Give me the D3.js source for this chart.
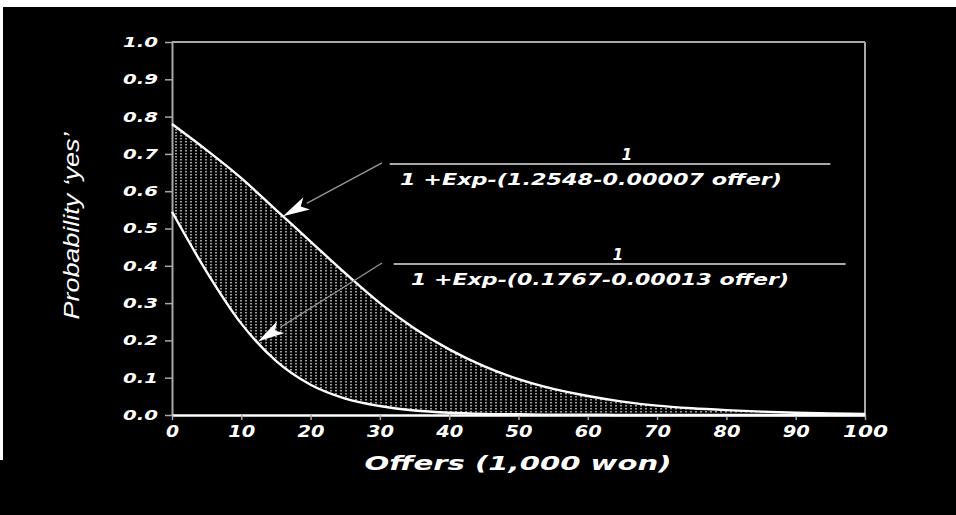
<!DOCTYPE html>
<html>
<head>
<meta charset="utf-8">
<script src="https://cdn.jsdelivr.net/npm/d3@7"></script>
<style>
  html, body { margin: 0; padding: 0; background: #000; overflow: hidden; }
  svg { display: block; }
</style>
</head>
<body>
<svg id="chart" width="956" height="515"></svg>
<script>
// Offers in thousands of won, with the fitted probability of a "yes" answer
const offers   = [0, 5, 10, 15, 20, 25, 30, 35, 40, 45, 50, 55, 60, 65, 70, 75, 80, 85, 90, 95, 100];
const upperYes = [0.78, 0.71, 0.635, 0.55, 0.465, 0.38, 0.30, 0.232, 0.176, 0.131, 0.096, 0.07, 0.051, 0.036, 0.025, 0.018, 0.013, 0.009, 0.006, 0.004, 0.003];
const lowerYes = [0.545, 0.384, 0.245, 0.145, 0.081, 0.044, 0.024, 0.012, 0.006, 0.003, 0.002, 0.001, 0.001, 0, 0, 0, 0, 0, 0, 0, 0];

const yTicks = [0, 0.1, 0.2, 0.3, 0.4, 0.5, 0.6, 0.7, 0.8, 0.9, 1.0];
const xTicks = [0, 10, 20, 30, 40, 50, 60, 70, 80, 90, 100];

const xTitle = "Offers (1,000 won)";
const yTitle = "Probability \u2018yes\u2019";
const formulaUpper = "1 +Exp-(1.2548-0.00007 offer)";
const formulaLower = "1 +Exp-(0.1767-0.00013 offer)";

const W = 956, H = 515;
const boldFont = "'DejaVu Sans', sans-serif";

const svg = d3.select("#chart");

// page background with the light band along the top and left edges
svg.append("rect").attr("width", W).attr("height", H).attr("fill", "#000");
svg.append("rect").attr("width", W).attr("height", 7).attr("fill", "#fff");
svg.append("rect").attr("width", 3).attr("height", 460).attr("fill", "#fff");

const x = d3.scaleLinear().domain([0, 100]).range([172, 865]);
const y = d3.scaleLinear().domain([0, 1]).range([415, 42]);

// stipple used to shade the region between the two curves
const defs = svg.append("defs");
const pat = defs.append("pattern")
  .attr("id", "stipple")
  .attr("patternUnits", "userSpaceOnUse")
  .attr("width", 5).attr("height", 3);
pat.append("rect").attr("width", 2).attr("height", 1.5).attr("fill", "#9a9a9a");

const rows = offers.map((o, i) => ({ o, hi: upperYes[i], lo: lowerYes[i] }));

svg.append("path")
  .datum(rows)
  .attr("fill", "url(#stipple)")
  .attr("d", d3.area()
    .x(d => x(d.o))
    .y0(d => y(d.lo))
    .y1(d => y(d.hi))
    .curve(d3.curveMonotoneX));

// frame: top and right edges
const frameColor = "#a8a8a8";
svg.append("line")
  .attr("x1", x(0)).attr("x2", x(100)).attr("y1", y(1)).attr("y2", y(1))
  .attr("stroke", frameColor).attr("stroke-width", 2);
svg.append("line")
  .attr("x1", x(100)).attr("x2", x(100)).attr("y1", y(1)).attr("y2", y(0))
  .attr("stroke", frameColor).attr("stroke-width", 2);

// y axis
const yAxis = svg.append("g")
  .attr("transform", `translate(${x(0)},0)`)
  .call(d3.axisLeft(y).tickValues(yTicks).tickFormat(d3.format(".1f"))
    .tickSize(7).tickSizeOuter(0).tickPadding(7));
yAxis.select(".domain").attr("stroke", frameColor).attr("stroke-width", 2);
yAxis.selectAll(".tick line").attr("stroke", frameColor).attr("stroke-width", 1.5);
yAxis.selectAll(".tick text")
  .attr("fill", "#fff")
  .attr("font-family", boldFont).attr("font-weight", "bold").attr("font-style", "italic")
  .attr("font-size", 14)
  .attr("textLength", 35).attr("lengthAdjust", "spacingAndGlyphs");

// x axis
const xAxis = svg.append("g")
  .attr("transform", `translate(0,${y(0)})`)
  .call(d3.axisBottom(x).tickValues(xTicks).tickFormat(d3.format("d"))
    .tickSize(5).tickSizeOuter(0).tickPadding(6));
xAxis.select(".domain").attr("stroke", "#fff").attr("stroke-width", 2.5);
xAxis.selectAll(".tick line").attr("stroke", frameColor).attr("stroke-width", 1.5);
xAxis.selectAll(".tick text")
  .attr("fill", "#fff")
  .attr("font-family", boldFont).attr("font-weight", "bold").attr("font-style", "italic")
  .attr("font-size", 15)
  .attr("textLength", d => String(d).length === 1 ? 13 : String(d).length === 2 ? 27 : 45)
  .attr("lengthAdjust", "spacingAndGlyphs");

// the two fitted curves
const line = key => d3.line().x(d => x(d.o)).y(d => y(d[key])).curve(d3.curveMonotoneX);
svg.append("path").datum(rows)
  .attr("fill", "none").attr("stroke", "#fff").attr("stroke-width", 2.4)
  .attr("d", line("lo"));
svg.append("path").datum(rows)
  .attr("fill", "none").attr("stroke", "#fff").attr("stroke-width", 2.4)
  .attr("d", line("hi"));

// value of a curve at any offer, read along its points
function valueAt(series, o) {
  const i = Math.min(offers.length - 2, Math.floor(o / 5));
  const t = (o - offers[i]) / (offers[i + 1] - offers[i]);
  return series[i] + t * (series[i + 1] - series[i]);
}

// formula labels with leader arrows pointing at their curves
const notes = [
  { text: formulaUpper, series: upperYes, tipOffer: 16.0,
    tail: [30.3, 0.676], rule: [31.4, 95.0, 0.673],
    numX: 627, denX: 400, denW: 382 },
  { text: formulaLower, series: lowerYes, tipOffer: 12.4,
    tail: [30.3, 0.4075], rule: [32.0, 97.2, 0.405],
    numX: 618, denX: 411, denW: 378 }
];

notes.forEach(n => {
  const tx = x(n.tipOffer), ty = y(valueAt(n.series, n.tipOffer));
  const sx = x(n.tail[0]), sy = y(n.tail[1]);
  const ang = Math.atan2(ty - sy, tx - sx);
  const len = 27, half = 7;
  const bx = tx - len * Math.cos(ang), by = ty - len * Math.sin(ang);
  svg.append("line")
    .attr("x1", sx).attr("y1", sy).attr("x2", bx).attr("y2", by)
    .attr("stroke", "#9a9a9a").attr("stroke-width", 1.2);
  const px = -Math.sin(ang), py = Math.cos(ang);
  svg.append("polygon")
    .attr("points", [
      [tx, ty],
      [bx + half * px, by + half * py],
      [tx - 0.75 * len * Math.cos(ang), ty - 0.75 * len * Math.sin(ang)],
      [bx - half * px, by - half * py]
    ].map(p => p.join(",")).join(" "))
    .attr("fill", "#fff");

  const ry = y(n.rule[2]);
  svg.append("line")
    .attr("x1", x(n.rule[0])).attr("x2", x(n.rule[1])).attr("y1", ry).attr("y2", ry)
    .attr("stroke", "#a8a8a8").attr("stroke-width", 2);
  svg.append("text")
    .attr("x", n.numX).attr("y", ry - 4)
    .attr("text-anchor", "middle")
    .attr("fill", "#fff")
    .attr("font-family", boldFont).attr("font-weight", "bold").attr("font-style", "italic")
    .attr("font-size", 15)
    .text("1");
  svg.append("text")
    .attr("x", n.denX).attr("y", ry + 21)
    .attr("fill", "#fff")
    .attr("font-family", boldFont).attr("font-weight", "bold").attr("font-style", "italic")
    .attr("font-size", 15)
    .attr("textLength", n.denW).attr("lengthAdjust", "spacingAndGlyphs")
    .text(n.text);
});

// axis titles
svg.append("text")
  .attr("x", 518).attr("y", 470)
  .attr("text-anchor", "middle")
  .attr("fill", "#fff")
  .attr("font-family", boldFont).attr("font-weight", "bold").attr("font-style", "italic")
  .attr("font-size", 20)
  .attr("textLength", 307).attr("lengthAdjust", "spacingAndGlyphs")
  .text(xTitle);

svg.append("text")
  .attr("transform", "translate(79,226) rotate(-90)")
  .attr("text-anchor", "middle")
  .attr("fill", "#fff")
  .attr("font-family", "'Liberation Sans', Arial, sans-serif").attr("font-style", "italic")
  .attr("font-size", 22)
  .attr("textLength", 187).attr("lengthAdjust", "spacingAndGlyphs")
  .text(yTitle);
</script>
</body>
</html>
